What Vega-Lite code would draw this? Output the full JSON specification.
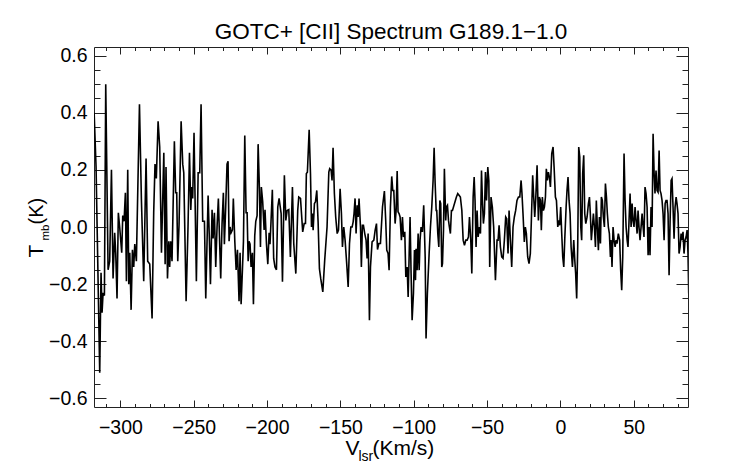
{
  "$schema": "https://vega.github.io/schema/vega-lite/v6.json",
  "width": 594,
  "height": 360,
  "autosize": "none",
  "padding": {"left": 94, "top": 47, "right": 54, "bottom": 57},
  "background": "white",
  "config": {
    "view": {"stroke": "#222222", "strokeWidth": 1},
    "font": "Liberation Sans",
    "axis": {
      "domain": false,
      "grid": false,
      "tickColor": "#222222",
      "tickWidth": 1,
      "labelFont": "Liberation Sans",
      "labelColor": "black",
      "labelOverlap": false,
      "labelFlush": false,
      "titleFont": "Liberation Sans",
      "titleColor": "black",
      "titleFontWeight": "normal"
    }
  },
  "title": {
    "text": "GOTC+ [CII] Spectrum G189.1−1.0",
    "font": "Liberation Sans",
    "fontSize": 22.5,
    "fontWeight": "normal",
    "color": "black",
    "anchor": "middle",
    "baseline": "alphabetic",
    "offset": -16
  },
  "resolve": {"axis": {"x": "independent", "y": "independent"}},
  "layer": [
    {
      "data": {
        "values": [
          {"v": -317.9, "t": 0.40}, {"v": -316.6, "t": 0.21}, {"v": -315.9, "t": 0.01}, {"v": -315.0, "t": -0.25},
          {"v": -314.1, "t": -0.51}, {"v": -313.2, "t": -0.16}, {"v": -312.5, "t": -0.30}, {"v": -311.8, "t": -0.23},
          {"v": -310.9, "t": -0.24}, {"v": -310.0, "t": 0.50}, {"v": -308.4, "t": -0.15}, {"v": -307.3, "t": -0.12},
          {"v": -306.1, "t": 0.20}, {"v": -305.0, "t": -0.18}, {"v": -303.9, "t": -0.02}, {"v": -303.2, "t": -0.09},
          {"v": -302.3, "t": -0.25}, {"v": -301.4, "t": 0.05}, {"v": -300.5, "t": 0.00}, {"v": -299.1, "t": -0.09},
          {"v": -298.4, "t": 0.04}, {"v": -297.5, "t": 0.02}, {"v": -296.6, "t": 0.12}, {"v": -295.9, "t": -0.19},
          {"v": -295.0, "t": 0.20}, {"v": -294.3, "t": -0.20}, {"v": -293.6, "t": -0.09}, {"v": -292.7, "t": -0.29},
          {"v": -291.8, "t": -0.08}, {"v": -290.9, "t": -0.14}, {"v": -290.2, "t": -0.06}, {"v": -289.1, "t": -0.12},
          {"v": -287.0, "t": 0.43}, {"v": -285.7, "t": 0.10}, {"v": -284.1, "t": -0.19}, {"v": -282.5, "t": 0.24},
          {"v": -281.4, "t": -0.12}, {"v": -280.0, "t": -0.13}, {"v": -278.4, "t": -0.32}, {"v": -277.3, "t": 0.05},
          {"v": -276.4, "t": 0.22}, {"v": -275.5, "t": 0.17}, {"v": -274.3, "t": 0.37}, {"v": -273.2, "t": 0.28},
          {"v": -272.0, "t": -0.09}, {"v": -270.4, "t": 0.26}, {"v": -269.5, "t": -0.13}, {"v": -268.9, "t": 0.21},
          {"v": -267.9, "t": -0.18}, {"v": -267.0, "t": -0.05}, {"v": -266.4, "t": -0.14}, {"v": -265.7, "t": -0.05},
          {"v": -264.8, "t": -0.12}, {"v": -263.2, "t": 0.30}, {"v": -262.3, "t": 0.12}, {"v": -261.6, "t": 0.12},
          {"v": -260.9, "t": -0.12}, {"v": -260.0, "t": 0.01}, {"v": -258.6, "t": 0.37}, {"v": -257.5, "t": 0.22},
          {"v": -256.8, "t": 0.19}, {"v": -255.2, "t": -0.26}, {"v": -253.9, "t": 0.00}, {"v": -252.9, "t": 0.26},
          {"v": -252.0, "t": 0.06}, {"v": -251.4, "t": 0.14}, {"v": -250.7, "t": 0.10}, {"v": -249.8, "t": 0.33},
          {"v": -248.2, "t": -0.19}, {"v": -247.0, "t": 0.19}, {"v": -245.9, "t": 0.19}, {"v": -245.0, "t": 0.43},
          {"v": -243.9, "t": 0.02}, {"v": -242.7, "t": 0.02}, {"v": -241.8, "t": -0.25}, {"v": -240.2, "t": 0.11},
          {"v": -239.3, "t": -0.05}, {"v": -238.6, "t": -0.20}, {"v": -237.5, "t": 0.06}, {"v": -236.8, "t": -0.04},
          {"v": -235.9, "t": 0.05}, {"v": -235.0, "t": -0.14}, {"v": -234.1, "t": 0.00}, {"v": -233.2, "t": 0.10},
          {"v": -232.3, "t": -0.06}, {"v": -231.6, "t": -0.18}, {"v": -230.7, "t": 0.01}, {"v": -229.8, "t": 0.12},
          {"v": -229.1, "t": -0.06}, {"v": -228.2, "t": 0.07}, {"v": -227.3, "t": 0.22}, {"v": -226.6, "t": 0.23},
          {"v": -225.9, "t": -0.05}, {"v": -225.2, "t": 0.00}, {"v": -224.5, "t": -0.02}, {"v": -223.6, "t": -0.01},
          {"v": -223.0, "t": 0.10}, {"v": -222.0, "t": -0.05}, {"v": -221.1, "t": -0.15}, {"v": -220.2, "t": -0.08},
          {"v": -219.1, "t": -0.26}, {"v": -218.4, "t": -0.09}, {"v": -217.7, "t": -0.27}, {"v": -216.8, "t": -0.15},
          {"v": -216.1, "t": -0.05}, {"v": -215.2, "t": 0.32}, {"v": -214.3, "t": 0.05}, {"v": -213.6, "t": 0.05},
          {"v": -212.9, "t": -0.12}, {"v": -212.3, "t": -0.05}, {"v": -211.6, "t": -0.06}, {"v": -210.9, "t": -0.14},
          {"v": -210.0, "t": -0.09}, {"v": -209.3, "t": -0.27}, {"v": -208.4, "t": -0.03}, {"v": -207.7, "t": 0.02},
          {"v": -206.8, "t": 0.04}, {"v": -206.1, "t": 0.29}, {"v": -205.2, "t": 0.13}, {"v": -204.5, "t": -0.07},
          {"v": -203.9, "t": 0.14}, {"v": -203.0, "t": 0.09}, {"v": -202.0, "t": -0.01}, {"v": -201.4, "t": 0.06},
          {"v": -200.4, "t": -0.06}, {"v": -199.5, "t": -0.13}, {"v": -198.6, "t": -0.02}, {"v": -198.0, "t": -0.06},
          {"v": -197.3, "t": 0.02}, {"v": -196.4, "t": 0.13}, {"v": -195.5, "t": -0.11}, {"v": -194.6, "t": -0.14},
          {"v": -193.6, "t": -0.15}, {"v": -192.7, "t": 0.07}, {"v": -191.8, "t": 0.10}, {"v": -190.4, "t": 0.047},
          {"v": -189.5, "t": -0.192}, {"v": -188.2, "t": 0.181}, {"v": -187.2, "t": 0.023}, {"v": -186.3, "t": 0.058},
          {"v": -185.2, "t": 0.061}, {"v": -184.1, "t": -0.105}, {"v": -182.7, "t": 0.14}, {"v": -181.8, "t": -0.058},
          {"v": -180.4, "t": -0.163}, {"v": -179.1, "t": 0.058}, {"v": -178.4, "t": 0.105}, {"v": -177.2, "t": 0.1},
          {"v": -176.6, "t": 0.053}, {"v": -175.7, "t": -0.017}, {"v": -174.7, "t": 0.012}, {"v": -173.8, "t": 0.012},
          {"v": -173.2, "t": 0.187}, {"v": -172.5, "t": 0.192}, {"v": -171.3, "t": 0.34}, {"v": -170.4, "t": 0.187},
          {"v": -169.7, "t": 0.0}, {"v": -169.1, "t": 0.047}, {"v": -168.6, "t": -0.011}, {"v": -167.7, "t": 0.082},
          {"v": -167.0, "t": 0.088}, {"v": -166.1, "t": 0.128}, {"v": -165.2, "t": 0.018}, {"v": -164.3, "t": -0.146},
          {"v": -163.4, "t": -0.181}, {"v": -162.0, "t": -0.227}, {"v": -160.7, "t": -0.116}, {"v": -159.1, "t": 0.0},
          {"v": -157.9, "t": 0.192}, {"v": -157.3, "t": 0.204}, {"v": -156.3, "t": 0.198}, {"v": -155.7, "t": 0.163},
          {"v": -155.0, "t": 0.277}, {"v": -154.1, "t": 0.117}, {"v": -153.2, "t": 0.035}, {"v": -152.2, "t": -0.023},
          {"v": -151.3, "t": -0.011}, {"v": -150.2, "t": 0.134}, {"v": -149.3, "t": 0.047}, {"v": -148.6, "t": -0.07},
          {"v": -147.7, "t": 0.0}, {"v": -146.8, "t": -0.046}, {"v": -145.7, "t": -0.128}, {"v": -144.7, "t": -0.21},
          {"v": -143.8, "t": -0.058}, {"v": -142.9, "t": 0.0}, {"v": -142.0, "t": 0.0}, {"v": -141.3, "t": 0.018},
          {"v": -140.7, "t": 0.047}, {"v": -140.0, "t": 0.1}, {"v": -139.3, "t": -0.023}, {"v": -138.6, "t": 0.076},
          {"v": -137.9, "t": 0.035}, {"v": -137.3, "t": 0.1}, {"v": -136.3, "t": 0.0}, {"v": -135.7, "t": -0.14},
          {"v": -135.0, "t": 0.006}, {"v": -134.3, "t": 0.006}, {"v": -133.4, "t": -0.023}, {"v": -132.5, "t": -0.046},
          {"v": -131.8, "t": -0.11}, {"v": -131.1, "t": -0.023}, {"v": -130.2, "t": -0.326}, {"v": -129.5, "t": -0.14},
          {"v": -128.4, "t": -0.052}, {"v": -127.2, "t": -0.046}, {"v": -126.3, "t": -0.011}, {"v": -125.4, "t": 0.012},
          {"v": -124.7, "t": -0.079}, {"v": -123.8, "t": -0.058}, {"v": -122.7, "t": -0.058}, {"v": -121.3, "t": 0.07},
          {"v": -120.0, "t": 0.126}, {"v": -119.1, "t": 0.023}, {"v": -118.4, "t": -0.081}, {"v": -117.5, "t": -0.093},
          {"v": -116.8, "t": -0.151}, {"v": -115.9, "t": 0.07}, {"v": -115.0, "t": 0.177}, {"v": -114.3, "t": 0.128},
          {"v": -113.6, "t": 0.128}, {"v": -112.7, "t": 0.012}, {"v": -112.0, "t": 0.058}, {"v": -111.3, "t": 0.196},
          {"v": -110.7, "t": 0.053}, {"v": -110.0, "t": 0.047}, {"v": -109.3, "t": 0.035}, {"v": -108.4, "t": -0.046},
          {"v": -107.7, "t": 0.035}, {"v": -107.0, "t": -0.035}, {"v": -106.1, "t": -0.017}, {"v": -105.4, "t": -0.175},
          {"v": -104.5, "t": -0.14}, {"v": -103.8, "t": -0.245}, {"v": -103.1, "t": -0.093}, {"v": -102.5, "t": 0.035},
          {"v": -101.8, "t": -0.163}, {"v": -101.1, "t": -0.326}, {"v": -100.2, "t": -0.233}, {"v": -99.5, "t": -0.081},
          {"v": -98.8, "t": -0.186}, {"v": -98.4, "t": -0.076}, {"v": -97.7, "t": -0.151}, {"v": -97.0, "t": -0.023},
          {"v": -96.3, "t": -0.151}, {"v": -95.7, "t": -0.046}, {"v": -95.0, "t": 0.0}, {"v": -94.1, "t": -0.017},
          {"v": -93.2, "t": 0.076}, {"v": -92.2, "t": -0.105}, {"v": -91.6, "t": -0.39}, {"v": -90.7, "t": -0.233},
          {"v": -89.5, "t": -0.093}, {"v": -88.6, "t": 0.0}, {"v": -87.7, "t": 0.07}, {"v": -86.8, "t": 0.163},
          {"v": -86.1, "t": 0.277}, {"v": -85.4, "t": 0.152}, {"v": -84.7, "t": 0.058}, {"v": -84.3, "t": 0.058},
          {"v": -83.6, "t": -0.023}, {"v": -82.9, "t": -0.07}, {"v": -82.2, "t": 0.093}, {"v": -81.6, "t": 0.082},
          {"v": -80.9, "t": -0.14}, {"v": -80.4, "t": -0.128}, {"v": -79.7, "t": -0.011}, {"v": -79.1, "t": 0.204},
          {"v": -78.2, "t": 0.023}, {"v": -77.7, "t": 0.07}, {"v": -77.0, "t": 0.076}, {"v": -76.3, "t": 0.023},
          {"v": -75.7, "t": 0.0}, {"v": -75.0, "t": -0.023}, {"v": -74.3, "t": 0.058}, {"v": -73.6, "t": 0.058},
          {"v": -72.9, "t": 0.07}, {"v": -72.2, "t": 0.082}, {"v": -71.6, "t": 0.093}, {"v": -70.9, "t": 0.105},
          {"v": -70.0, "t": 0.117}, {"v": -69.1, "t": 0.111}, {"v": -68.2, "t": 0.105}, {"v": -67.2, "t": 0.058},
          {"v": -66.3, "t": -0.046}, {"v": -65.4, "t": -0.064}, {"v": -64.5, "t": -0.046}, {"v": -63.6, "t": -0.046},
          {"v": -62.7, "t": -0.035}, {"v": -62.0, "t": 0.035}, {"v": -61.1, "t": -0.046}, {"v": -60.4, "t": -0.163},
          {"v": -59.5, "t": 0.105}, {"v": -58.8, "t": 0.175}, {"v": -58.2, "t": 0.093}, {"v": -57.5, "t": -0.07},
          {"v": -56.8, "t": 0.058}, {"v": -56.1, "t": -0.035}, {"v": -55.2, "t": 0.0}, {"v": -54.5, "t": -0.023},
          {"v": -53.8, "t": 0.198}, {"v": -53.1, "t": 0.082}, {"v": -52.5, "t": 0.012}, {"v": -51.8, "t": 0.047},
          {"v": -51.1, "t": 0.192}, {"v": -50.4, "t": 0.093}, {"v": -49.5, "t": 0.21}, {"v": -48.8, "t": 0.163},
          {"v": -48.2, "t": -0.14}, {"v": -47.3, "t": 0.105}, {"v": -46.4, "t": 0.07}, {"v": -45.5, "t": 0.0},
          {"v": -44.3, "t": -0.186}, {"v": -43.2, "t": -0.046}, {"v": -42.5, "t": -0.046}, {"v": -41.8, "t": 0.006},
          {"v": -40.9, "t": -0.07}, {"v": -40.0, "t": -0.105}, {"v": -39.1, "t": -0.11}, {"v": -38.2, "t": -0.046},
          {"v": -37.3, "t": 0.035}, {"v": -36.6, "t": 0.029}, {"v": -35.7, "t": -0.093}, {"v": -35.0, "t": 0.058},
          {"v": -34.1, "t": -0.046}, {"v": -33.2, "t": -0.14}, {"v": -32.3, "t": 0.0}, {"v": -31.4, "t": 0.035},
          {"v": -30.5, "t": 0.058}, {"v": -29.6, "t": 0.093}, {"v": -28.6, "t": 0.105}, {"v": -27.7, "t": 0.105},
          {"v": -26.8, "t": 0.163}, {"v": -26.2, "t": 0.117}, {"v": -25.5, "t": 0.047}, {"v": -24.6, "t": -0.052},
          {"v": -23.9, "t": 0.0}, {"v": -23.2, "t": -0.023}, {"v": -22.3, "t": -0.105}, {"v": -21.4, "t": -0.128},
          {"v": -20.5, "t": -0.093}, {"v": -19.8, "t": 0.023}, {"v": -18.9, "t": 0.181}, {"v": -18.2, "t": 0.105},
          {"v": -17.5, "t": 0.035}, {"v": -16.8, "t": 0.1}, {"v": -15.9, "t": 0.216}, {"v": -15.0, "t": 0.023},
          {"v": -14.3, "t": 0.105}, {"v": -13.6, "t": 0.093}, {"v": -13.0, "t": -0.011}, {"v": -12.3, "t": 0.105},
          {"v": -11.6, "t": 0.058}, {"v": -10.9, "t": 0.07}, {"v": -10.2, "t": 0.105}, {"v": -9.6, "t": 0.204},
          {"v": -8.9, "t": 0.163}, {"v": -8.2, "t": 0.192}, {"v": -7.5, "t": 0.175}, {"v": -6.8, "t": 0.14},
          {"v": -5.9, "t": 0.257}, {"v": -5.0, "t": 0.28}, {"v": -4.3, "t": 0.21}, {"v": -3.4, "t": 0.105},
          {"v": -2.7, "t": 0.093}, {"v": -1.8, "t": 0.0}, {"v": -1.1, "t": 0.023}, {"v": -0.5, "t": 0.006},
          {"v": 0.2, "t": 0.07}, {"v": 0.9, "t": -0.023}, {"v": 1.6, "t": -0.105}, {"v": 2.3, "t": -0.14},
          {"v": 2.95, "t": -0.046}, {"v": 3.9, "t": 0.07}, {"v": 4.5, "t": 0.128}, {"v": 5.2, "t": 0.175},
          {"v": 5.9, "t": 0.093}, {"v": 6.6, "t": 0.047}, {"v": 7.3, "t": -0.07}, {"v": 8.2, "t": -0.14},
          {"v": 9.1, "t": -0.046}, {"v": 9.8, "t": -0.116}, {"v": 10.4, "t": -0.163}, {"v": 11.1, "t": -0.25},
          {"v": 11.8, "t": -0.07}, {"v": 12.5, "t": 0.28}, {"v": 13.2, "t": 0.245}, {"v": 13.9, "t": 0.0},
          {"v": 14.5, "t": -0.046}, {"v": 15.2, "t": 0.187}, {"v": 15.9, "t": 0.251}, {"v": 16.6, "t": 0.047},
          {"v": 17.3, "t": 0.012}, {"v": 18.2, "t": 0.035}, {"v": 19.1, "t": 0.082}, {"v": 19.8, "t": 0.105},
          {"v": 20.4, "t": 0.047}, {"v": 21.1, "t": -0.046}, {"v": 21.8, "t": 0.0}, {"v": 22.5, "t": 0.047},
          {"v": 23.2, "t": 0.0}, {"v": 23.9, "t": -0.07}, {"v": 24.5, "t": 0.093}, {"v": 25.2, "t": 0.0},
          {"v": 25.9, "t": -0.081}, {"v": 26.6, "t": 0.035}, {"v": 27.3, "t": -0.058}, {"v": 27.95, "t": 0.105},
          {"v": 28.6, "t": 0.093}, {"v": 29.3, "t": 0.035}, {"v": 30.0, "t": 0.0}, {"v": 30.7, "t": 0.152},
          {"v": 31.4, "t": 0.105}, {"v": 32.0, "t": 0.047}, {"v": 32.7, "t": 0.0}, {"v": 33.4, "t": -0.023},
          {"v": 34.1, "t": -0.105}, {"v": 34.5, "t": -0.046}, {"v": 35.2, "t": -0.14}, {"v": 35.9, "t": 0.0},
          {"v": 36.6, "t": -0.046}, {"v": 37.3, "t": -0.07}, {"v": 37.95, "t": -0.046}, {"v": 38.6, "t": -0.058},
          {"v": 39.5, "t": -0.023}, {"v": 40.4, "t": -0.046}, {"v": 41.1, "t": -0.151}, {"v": 41.8, "t": -0.221},
          {"v": 42.5, "t": -0.105}, {"v": 43.4, "t": 0.257}, {"v": 44.1, "t": 0.093}, {"v": 44.8, "t": 0.0},
          {"v": 45.5, "t": -0.046}, {"v": 46.1, "t": -0.07}, {"v": 46.8, "t": 0.023}, {"v": 47.5, "t": 0.117},
          {"v": 48.2, "t": 0.0}, {"v": 48.9, "t": 0.082}, {"v": 49.5, "t": 0.023}, {"v": 50.2, "t": 0.0},
          {"v": 50.9, "t": 0.07}, {"v": 51.6, "t": 0.023}, {"v": 52.3, "t": -0.023}, {"v": 52.95, "t": 0.058},
          {"v": 53.6, "t": 0.0}, {"v": 54.3, "t": -0.046}, {"v": 55.0, "t": 0.0}, {"v": 55.7, "t": 0.047},
          {"v": 56.4, "t": 0.0}, {"v": 57.0, "t": -0.035}, {"v": 57.7, "t": 0.14}, {"v": 58.4, "t": 0.117},
          {"v": 59.1, "t": 0.07}, {"v": 59.8, "t": -0.099}, {"v": 60.5, "t": 0.0}, {"v": 61.1, "t": -0.099},
          {"v": 61.8, "t": 0.07}, {"v": 62.5, "t": 0.0}, {"v": 63.2, "t": 0.326}, {"v": 63.9, "t": 0.187},
          {"v": 64.5, "t": 0.117}, {"v": 65.2, "t": 0.198}, {"v": 65.9, "t": 0.128}, {"v": 66.6, "t": 0.122},
          {"v": 67.3, "t": 0.268}, {"v": 67.95, "t": 0.128}, {"v": 68.6, "t": 0.117}, {"v": 69.3, "t": 0.093},
          {"v": 70.0, "t": 0.047}, {"v": 70.7, "t": -0.046}, {"v": 71.4, "t": 0.082}, {"v": 72.0, "t": 0.093},
          {"v": 72.7, "t": 0.093}, {"v": 73.4, "t": 0.047}, {"v": 74.1, "t": -0.169}, {"v": 74.8, "t": 0.023},
          {"v": 75.5, "t": 0.163}, {"v": 76.1, "t": 0.169}, {"v": 76.8, "t": 0.07}, {"v": 77.5, "t": -0.041},
          {"v": 78.2, "t": 0.07}, {"v": 78.9, "t": 0.105}, {"v": 79.5, "t": 0.082}, {"v": 80.2, "t": 0.047},
          {"v": 80.9, "t": -0.093}, {"v": 81.6, "t": -0.07}, {"v": 82.3, "t": -0.023}, {"v": 82.95, "t": -0.046},
          {"v": 83.6, "t": -0.017}, {"v": 84.3, "t": -0.093}, {"v": 85.0, "t": -0.046}, {"v": 85.7, "t": -0.035},
          {"v": 86.4, "t": -0.011}, {"v": 87.0, "t": -0.093}, {"v": 87.5, "t": -0.233}
        ]
      },
      "mark": {"type": "line", "color": "black", "strokeWidth": 1.6, "clip": true, "interpolate": "linear"},
      "encoding": {
        "x": {
          "field": "v", "type": "quantitative",
          "scale": {"domain": [-318, 87], "nice": false, "zero": false},
          "axis": {
            "orient": "bottom", "ticks": false, "values": [-300, -250, -200, -150, -100, -50, 0, 50],
            "format": "d", "labelFontSize": 19.5, "labelPadding": 11, "labelBaseline": "top",
            "title": "V", "titleFontSize": 21, "titleX": 251, "titleY": 47,
            "titleAlign": "left", "titleBaseline": "alphabetic", "titleAngle": 0
          }
        },
        "y": {
          "field": "t", "type": "quantitative",
          "scale": {"domain": [-0.63, 0.63], "nice": false, "zero": false},
          "axis": {
            "orient": "left", "ticks": false, "values": [-0.6, -0.4, -0.2, 0, 0.2, 0.4, 0.6],
            "format": ".1f", "labelFontSize": 19.5, "labelPadding": 7,
            "title": "T", "titleFontSize": 21, "titleX": -52, "titleY": 210,
            "titleAlign": "left", "titleBaseline": "alphabetic", "titleAngle": 270
          }
        }
      }
    },
    {
      "data": {"values": [{"v": 0, "t": 0}]},
      "mark": {"type": "point", "opacity": 0},
      "encoding": {
        "x": {
          "field": "v", "type": "quantitative",
          "scale": {"domain": [-318, 87], "nice": false, "zero": false},
          "axis": {
            "orient": "bottom", "labels": false, "tickSize": -7,
            "values": [-300, -250, -200, -150, -100, -50, 0, 50],
            "title": "lsr", "titleFontSize": 14, "titleX": 264, "titleY": 53,
            "titleAlign": "left", "titleBaseline": "alphabetic", "titleAngle": 0
          }
        },
        "y": {
          "field": "t", "type": "quantitative",
          "scale": {"domain": [-0.63, 0.63], "nice": false, "zero": false},
          "axis": {
            "orient": "left", "labels": false, "tickSize": -12,
            "values": [-0.6, -0.4, -0.2, 0, 0.2, 0.4, 0.6],
            "title": "mb", "titleFontSize": 11.5, "titleX": -46, "titleY": 193,
            "titleAlign": "left", "titleBaseline": "alphabetic", "titleAngle": 270
          }
        }
      }
    },
    {
      "data": {"values": [{"v": 0, "t": 0}]},
      "mark": {"type": "point", "opacity": 0},
      "encoding": {
        "x": {
          "field": "v", "type": "quantitative",
          "scale": {"domain": [-318, 87], "nice": false, "zero": false},
          "axis": {
            "orient": "bottom", "labels": false, "tickSize": -3.5,
            "values": [-310, -290, -280, -270, -260, -240, -230, -220, -210, -190, -180, -170, -160, -140, -130, -120, -110, -90, -80, -70, -60, -40, -30, -20, -10, 10, 20, 30, 40, 60, 70, 80],
            "title": "(Km/s)", "titleFontSize": 21, "titleX": 278, "titleY": 47,
            "titleAlign": "left", "titleBaseline": "alphabetic", "titleAngle": 0
          }
        },
        "y": {
          "field": "t", "type": "quantitative",
          "scale": {"domain": [-0.63, 0.63], "nice": false, "zero": false},
          "axis": {
            "orient": "left", "labels": false, "tickSize": -6,
            "values": [-0.55, -0.5, -0.45, -0.35, -0.3, -0.25, -0.15, -0.1, -0.05, 0.05, 0.1, 0.15, 0.25, 0.3, 0.35, 0.45, 0.5, 0.55],
            "title": "(K)", "titleFontSize": 20, "titleX": -52, "titleY": 177,
            "titleAlign": "left", "titleBaseline": "alphabetic", "titleAngle": 270
          }
        }
      }
    },
    {
      "data": {"values": [{"v": 0, "t": 0}]},
      "mark": {"type": "point", "opacity": 0},
      "encoding": {
        "x": {
          "field": "v", "type": "quantitative",
          "scale": {"domain": [-318, 87], "nice": false, "zero": false},
          "axis": {
            "orient": "top", "labels": false, "tickSize": -7, "title": null,
            "values": [-300, -250, -200, -150, -100, -50, 0, 50]
          }
        },
        "y": {
          "field": "t", "type": "quantitative",
          "scale": {"domain": [-0.63, 0.63], "nice": false, "zero": false},
          "axis": {
            "orient": "right", "labels": false, "tickSize": -12, "title": null,
            "values": [-0.6, -0.4, -0.2, 0, 0.2, 0.4, 0.6]
          }
        }
      }
    },
    {
      "data": {"values": [{"v": 0, "t": 0}]},
      "mark": {"type": "point", "opacity": 0},
      "encoding": {
        "x": {
          "field": "v", "type": "quantitative",
          "scale": {"domain": [-318, 87], "nice": false, "zero": false},
          "axis": {
            "orient": "top", "labels": false, "tickSize": -3.5, "title": null,
            "values": [-310, -290, -280, -270, -260, -240, -230, -220, -210, -190, -180, -170, -160, -140, -130, -120, -110, -90, -80, -70, -60, -40, -30, -20, -10, 10, 20, 30, 40, 60, 70, 80]
          }
        },
        "y": {
          "field": "t", "type": "quantitative",
          "scale": {"domain": [-0.63, 0.63], "nice": false, "zero": false},
          "axis": {
            "orient": "right", "labels": false, "tickSize": -6, "title": null,
            "values": [-0.55, -0.5, -0.45, -0.35, -0.3, -0.25, -0.15, -0.1, -0.05, 0.05, 0.1, 0.15, 0.25, 0.3, 0.35, 0.45, 0.5, 0.55]
          }
        }
      }
    }
  ]
}
